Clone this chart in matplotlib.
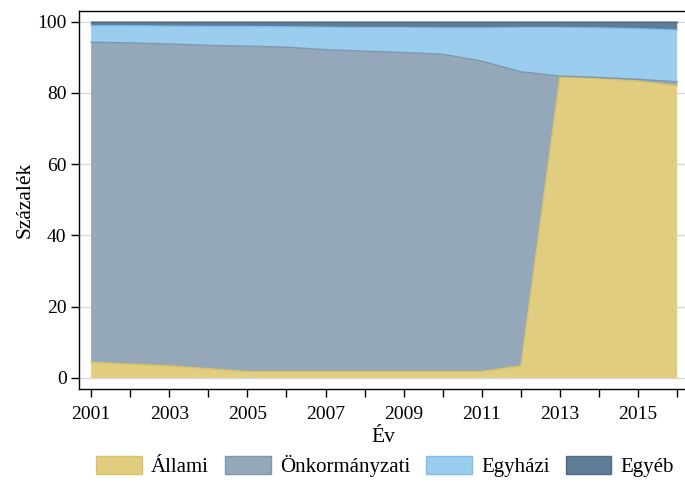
import matplotlib
matplotlib.use("Agg")
import matplotlib.pyplot as plt
import numpy as np
from matplotlib.patches import Patch

plt.rcParams['font.family'] = ['Liberation Serif', 'DejaVu Serif']

years = list(range(2001, 2017))
allami = [4.4, 3.9, 3.4, 2.6, 1.8, 1.8, 1.8, 1.8, 1.8, 1.8, 1.8, 3.4, 84.5, 84.0, 83.3, 82.0]
onkorm = [89.8, 90.1, 90.3, 90.7, 91.3, 91.0, 90.3, 89.9, 89.5, 89.0, 87.1, 82.5, 0.2, 0.3, 0.5, 1.1]
egyhazi = [4.6, 4.8, 5.0, 5.3, 5.5, 5.7, 6.3, 6.6, 7.0, 7.4, 9.3, 12.4, 13.6, 13.9, 14.2, 14.5]
egyeb = [1.2, 1.2, 1.3, 1.4, 1.4, 1.5, 1.6, 1.7, 1.7, 1.8, 1.8, 1.7, 1.7, 1.8, 2.0, 2.4]
labels = ['Állami', 'Önkormányzati', 'Egyházi', 'Egyéb']
y_ticks = [0, 20, 40, 60, 80, 100]

fills = ['#E1CD80', '#94A8BA', '#9ACDEE', '#5F7D96']
edges = ['#D8C266', '#7E97AE', '#80BDE8', '#4F6C84']

fig = plt.figure(figsize=(6.85, 4.92), dpi=100)
ax = fig.add_axes([79/685, 1-389/492, (685-79)/685, (389-11)/492])

series = [allami, onkorm, egyhazi, egyeb]
base = np.zeros(len(years))
for vals, fc, ec in zip(series, fills, edges):
    top = base + np.array(vals)
    ax.fill_between(years, base, top, facecolor=fc, edgecolor='none', zorder=2)
    ax.plot(years, top, color=ec, lw=1.0, zorder=3)
    base = top

ax.set_xlim(2000.69, 2016.2)
ax.set_ylim(-3.09, 102.95)
ax.set_yticks(y_ticks)
ax.set_xticks(list(range(2001, 2017, 2)))
ax.set_xticks(list(range(2002, 2017, 2)), minor=True)
ax.tick_params(axis='both', which='both', direction='out', length=6, width=1, labelsize=14, color='black')
ax.tick_params(axis='y', pad=3)
ax.tick_params(axis='x', pad=6)
ax.grid(axis='y', color='#DADADA', lw=1.0, zorder=1)
ax.set_axisbelow(True)
for s in ['left', 'top', 'bottom']:
    ax.spines[s].set_linewidth(1.0)
ax.spines['right'].set_visible(False)

ax.set_ylabel('Százalék', fontsize=15.5, va='center')
ax.yaxis.set_label_coords(-(79 - 25) / 606, 0.5)
ax.set_xlabel('Év', fontsize=15.5, va='center')
ax.xaxis.set_label_coords((383 - 79) / 606, -(437 - 389) / 378)

handles = [Patch(facecolor=fc, edgecolor=ec, lw=1) for fc, ec in zip(fills, edges)]
ax.legend(handles, labels, loc='center', bbox_to_anchor=((385 - 79) / 606, -(466 - 389) / 378), ncol=4,
          frameon=False, fontsize=15, handlelength=2.2, handleheight=0.9, columnspacing=0.76,
          handletextpad=0.45, borderpad=0)

fig.savefig('out.png', dpi=100)
